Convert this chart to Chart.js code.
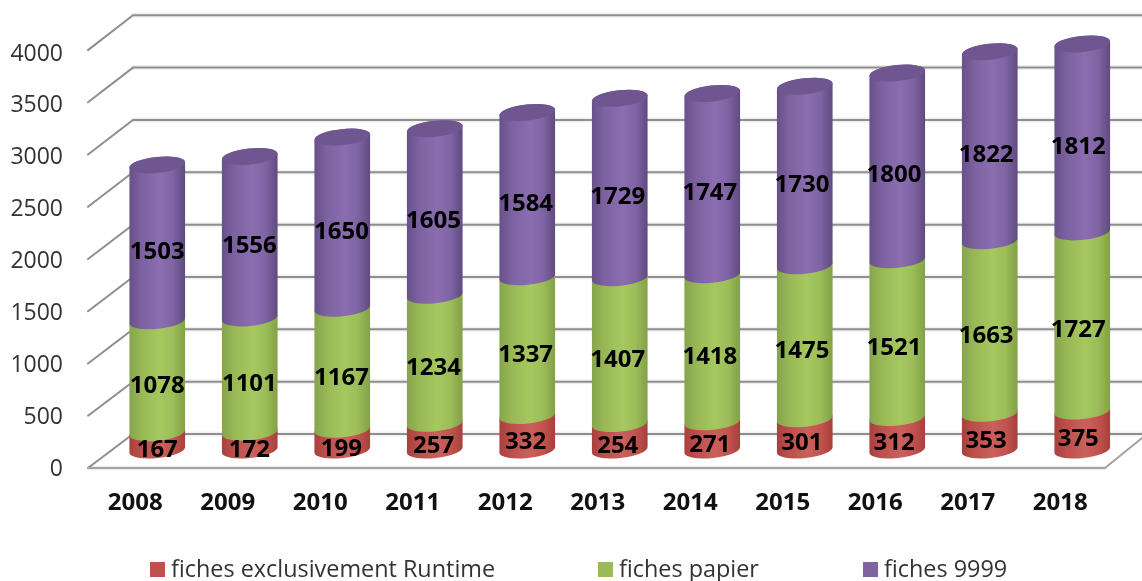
<!DOCTYPE html>
<html>
<head>
<meta charset="utf-8">
<style>html,body{margin:0;padding:0;background:#fff}canvas{display:block}</style>
<script src="https://cdn.jsdelivr.net/npm/chart.js@4"></script>
</head>
<body>
<canvas id="c" width="1142" height="581"></canvas>
<script>
const categories = ['2008','2009','2010','2011','2012','2013','2014','2015','2016','2017','2018'];
const runtimeValues = [167,172,199,257,332,254,271,301,312,353,375];
const papierValues = [1078,1101,1167,1234,1337,1407,1418,1475,1521,1663,1727];
const f9999Values = [1503,1556,1650,1605,1584,1729,1747,1730,1800,1822,1812];
const seriesLabels = ['fiches exclusivement Runtime','fiches papier','fiches 9999'];
const seriesColors = ['#c0504d','#9bbb59','#8064a2'];
const shades = [
  ['#a8403e','#bd4f4c','#c9605c','#c4534f','#a5403d'],
  ['#86a44a','#98b856','#a6c85f','#9cbd59','#83a046'],
  ['#67508a','#7c62a0','#8b6db0','#7f64a4','#5f4a7e']
];
const legendX = [150,598,863];
const ROT = -6 * Math.PI / 180, RY = 8;

function bodyGrad(ctx, x, w, idx){
  const g = ctx.createLinearGradient(x - w/2, 0, x + w/2, 0);
  const s = shades[idx];
  g.addColorStop(0, s[0]); g.addColorStop(0.22, s[1]); g.addColorStop(0.55, s[2]);
  g.addColorStop(0.78, s[3]); g.addColorStop(1, s[4]);
  return g;
}

const cylinders = {
  id: 'cylinders',
  afterLayout(chart){
    const y = chart.scales.y;
    y.top = 35; y.bottom = 450; y.height = 415;
    y.paddingTop = 0; y.paddingBottom = 0;
    y.configure();
    chart.chartArea.top = 35; chart.chartArea.bottom = 450; chart.chartArea.height = 415;
  },
  beforeDatasetsDraw(chart){
    const ctx = chart.ctx, y = chart.scales.y;
    const back = v => { const p = y.getPixelForValue(v); return p + (p - y.bottom) * 0.009 - 16; };
    const front = v => { const p = y.getPixelForValue(v); return p + (p - y.bottom) * 0.007 + 18; };
    ctx.save();
    ctx.lineCap = 'round';
    for (const t of y.ticks) {
      const v = t.value;
      ctx.strokeStyle = 'rgba(0,0,0,0.06)'; ctx.lineWidth = 5;
      ctx.beginPath(); ctx.moveTo(133, back(v)); ctx.lineTo(1142, back(v)); ctx.stroke();
      ctx.strokeStyle = '#8f8f8f'; ctx.lineWidth = 2;
      ctx.beginPath(); ctx.moveTo(88, front(v)); ctx.lineTo(133, back(v)); ctx.lineTo(1142, back(v)); ctx.stroke();
    }
    const f0 = front(0), b0 = back(0);
    ctx.strokeStyle = 'rgba(0,0,0,0.06)'; ctx.lineWidth = 5;
    ctx.beginPath(); ctx.moveTo(90, f0); ctx.lineTo(1105, f0); ctx.stroke();
    ctx.strokeStyle = '#a3a3a3'; ctx.lineWidth = 2;
    ctx.beginPath(); ctx.moveTo(88, f0); ctx.lineTo(1105, f0); ctx.lineTo(1147, b0); ctx.stroke();
    ctx.restore();
  },
  beforeDatasetDraw(){ return false; },
  afterDatasetsDraw(chart){
    const ctx = chart.ctx;
    ctx.save();
    const n = categories.length, nd = chart.data.datasets.length;
    for (let i = 0; i < n; i++) {
      for (let d = 0; d < nd; d++) {
        const b = chart.getDatasetMeta(d).data[i];
        const rx = b.width / 2;
        ctx.fillStyle = bodyGrad(ctx, b.x, b.width, d);
        ctx.beginPath();
        ctx.ellipse(b.x, b.base, rx, RY, ROT, 0, Math.PI);
        ctx.ellipse(b.x, b.y, rx, RY, ROT, Math.PI, 2 * Math.PI);
        ctx.closePath(); ctx.fill();
        if (d === nd - 1) {
          ctx.fillStyle = '#6f5690';
          ctx.beginPath();
          ctx.ellipse(b.x, b.y, rx, RY, ROT, 0, 2 * Math.PI);
          ctx.fill();
        }
      }
    }
    // value labels
    ctx.fillStyle = '#000';
    ctx.font = 'bold 24px "Open Sans"';
    ctx.textAlign = 'center'; ctx.textBaseline = 'middle';
    for (let d = 0; d < nd; d++) {
      chart.getDatasetMeta(d).data.forEach((b, i) => {
        const val = chart.data.datasets[d].data[i];
        ctx.fillText(String(val), b.x - i * 0.4, (b.y + b.base) / 2 + 9);
      });
    }
    // legend
    ctx.font = '23.4px "Open Sans"';
    ctx.textAlign = 'left'; ctx.textBaseline = 'middle';
    chart.data.datasets.forEach((ds, d) => {
      ctx.fillStyle = ds.backgroundColor;
      ctx.fillRect(legendX[d], 562, 15, 15);
      ctx.fillStyle = '#333';
      ctx.fillText(ds.label, legendX[d] + 21, 570);
    });
    ctx.restore();
  }
};

new Chart(document.getElementById('c'), {
  type: 'bar',
  data: {
    labels: categories,
    datasets: [
      {label: seriesLabels[0], data: runtimeValues, backgroundColor: seriesColors[0]},
      {label: seriesLabels[1], data: papierValues, backgroundColor: seriesColors[1]},
      {label: seriesLabels[2], data: f9999Values, backgroundColor: seriesColors[2]}
    ]
  },
  plugins: [cylinders],
  options: {
    responsive: false,
    animation: false,
    layout: {padding: {top: 15, right: 13.5, bottom: 0, left: 0}},
    plugins: {legend: {display: false}, tooltip: {enabled: false}},
    datasets: {bar: {categoryPercentage: 1, barPercentage: 0.605}},
    scales: {
      x: {
        stacked: true,
        grid: {display: false}, border: {display: false},
        ticks: {autoSkip: false, maxRotation: 0, padding: 31, labelOffset: -22, color: '#111',
                font: {family: '"Open Sans"', size: 24, weight: 'bold'}},
        afterFit(s){ s.height = 131; }
      },
      y: {
        stacked: true, min: 0, max: 4000,
        grid: {display: false}, border: {display: false},
        ticks: {stepSize: 500, padding: 40, labelOffset: 19, color: '#333',
                callback: v => String(v),
                font: {family: '"Open Sans"', size: 23}},
        afterFit(s){ s.width = 111; }
      }
    }
  }
});
</script>
</body>
</html>
